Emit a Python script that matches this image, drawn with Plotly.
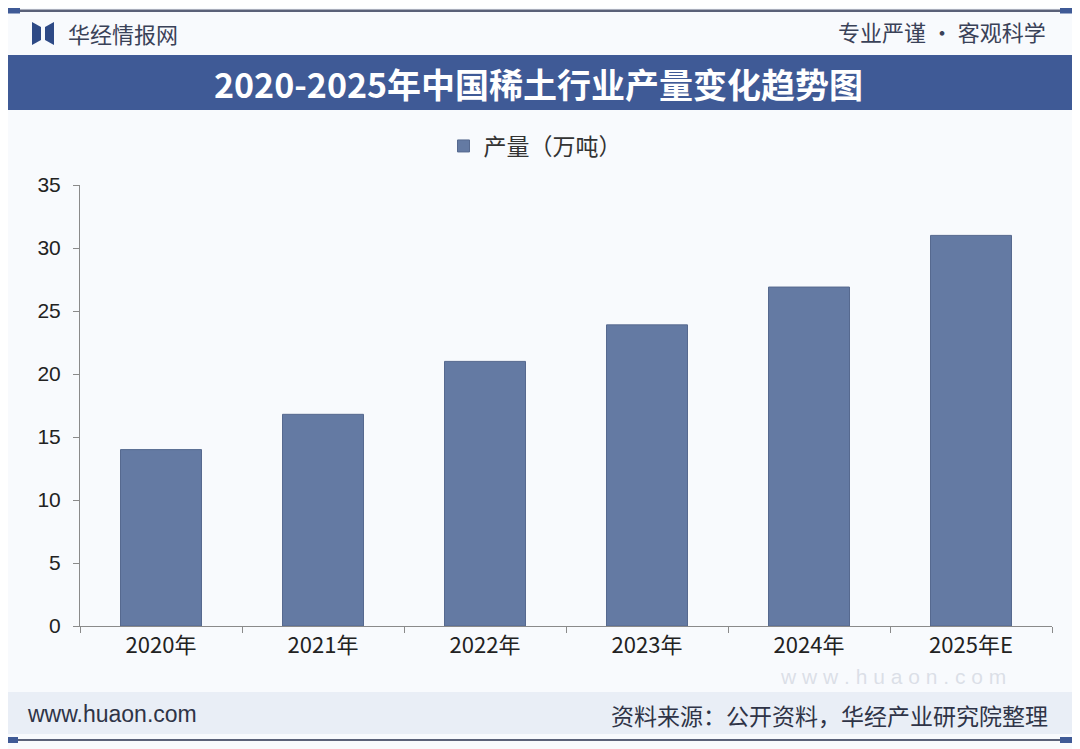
import plotly.graph_objects as go

# data
years = ["2020年", "2021年", "2022年", "2023年", "2024年", "2025年E"]
output = [14, 16.8, 21, 23.9, 26.9, 31]
y_ticks = [0, 5, 10, 15, 20, 25, 30, 35]

BAR = "#647aa3"
BAND = "#3f5a96"
FONT = "Liberation Sans, Noto Sans CJK SC, sans-serif"
CJK = "Noto Sans CJK SC, sans-serif"

# the page has an 8px body margin, so the figure is drawn 8px smaller and
# every window pixel position is shifted back by OFF
OFF = 8
W, H = 1080 - OFF, 749 - OFF
L, R, T, B = 80 - OFF, 1052 - OFF, 185 - OFF, 626 - OFF


def px(x):
    return (x - OFF - L) / (R - L)


def py(y):
    return (B - (y - OFF)) / (B - T)


fig = go.Figure()
fig.add_trace(go.Bar(x=years, y=output, name="产量（万吨）",
                     marker=dict(color=BAR, line=dict(color="#56698f", width=1))))

fig.update_layout(
    width=W, height=H,
    margin=dict(l=L, r=W - R, t=T, b=H - B, autoexpand=False),
    paper_bgcolor="#f8fafd", plot_bgcolor="rgba(0,0,0,0)",
    bargap=0.5,
    showlegend=True,
    legend=dict(orientation="h", x=px(535), y=py(146), xanchor="center", yanchor="middle",
                font=dict(family=CJK, size=23, color="#333333"),
                bgcolor="rgba(0,0,0,0)", itemwidth=30),
    font=dict(family=FONT, size=20, color="#222222"),
)
fig.update_yaxes(range=[0, 35], tickvals=y_ticks, showgrid=False, zeroline=False,
                 showline=True, linecolor="#8a8a8a", linewidth=1,
                 ticks="outside", ticklen=6, tickcolor="#8a8a8a", ticklabelstandoff=8,
                 tickfont=dict(family=FONT, size=21, color="#222222"))
fig.update_xaxes(showgrid=False, showline=True, linecolor="#8a8a8a", linewidth=1,
                 ticks="outside", ticklen=6, tickcolor="#8a8a8a", tickson="boundaries",
                 tickfont=dict(family=CJK, size=22, color="#222222"))


def rect(x0, y0, x1, y1, color):
    return dict(type="rect", xref="paper", yref="paper", layer="below",
                x0=px(x0), x1=px(x1), y0=py(y1), y1=py(y0),
                fillcolor=color, line=dict(width=0))


shapes = [
    # top line with end caps
    rect(8, 9.5, 1072, 12, "#5a6178"),
    rect(8, 8, 20, 13.5, BAND),
    rect(1060, 8, 1072, 13.5, BAND),
    # title band
    rect(8, 55, 1072, 110, BAND),
    # footer band
    rect(8, 692, 1072, 734, "#e9eef6"),
    # bottom line with end caps
    rect(8, 739, 1072, 741, "#5a6178"),
    rect(8, 737, 18, 743, BAND),
    rect(1060, 737, 1072, 743, BAND),
]
# logo: two small dark blue trapezoids
for poly in [[(32, 22), (41, 27), (41, 40), (32, 45)],
             [(54, 22), (45, 27), (45, 40), (54, 45)]]:
    path = "M" + " L".join(f"{px(a):.5f},{py(b):.5f}" for a, b in poly) + " Z"
    shapes.append(dict(type="path", xref="paper", yref="paper", path=path,
                       fillcolor="#2e4a86", line=dict(width=0)))
fig.update_layout(shapes=shapes)

annotations = [
    dict(text="华经情报网", x=px(66), y=py(33), xanchor="left", yanchor="middle",
         font=dict(family=CJK, size=22, color="#3a4258")),
    dict(text="专业严谨 • 客观科学", x=px(1048), y=py(31), xanchor="right", yanchor="middle",
         font=dict(family=CJK, size=22, color="#3a4258")),
    dict(text="<b>2020-2025年中国稀土行业产量变化趋势图</b>", x=px(538), y=py(84),
         xanchor="center", yanchor="middle",
         font=dict(family=CJK, size=34, color="#ffffff")),
    dict(text="www.huaon.com", x=px(25), y=py(714), xanchor="left", yanchor="middle",
         font=dict(family=FONT, size=23, color="#2f3447")),
    dict(text="资料来源：公开资料，华经产业研究院整理", x=px(1050), y=py(715),
         xanchor="right", yanchor="middle",
         font=dict(family=CJK, size=23, color="#2f3447")),
    # faint watermark
    dict(text="w w w . h u a o n . c o m", x=px(893), y=py(676), xanchor="center",
         yanchor="middle",
         font=dict(family=FONT, size=21, color="rgba(195,200,212,0.55)")),
]
for a in annotations:
    a.update(xref="paper", yref="paper", showarrow=False)
fig.update_layout(annotations=annotations)

fig.write_html("out.html")
